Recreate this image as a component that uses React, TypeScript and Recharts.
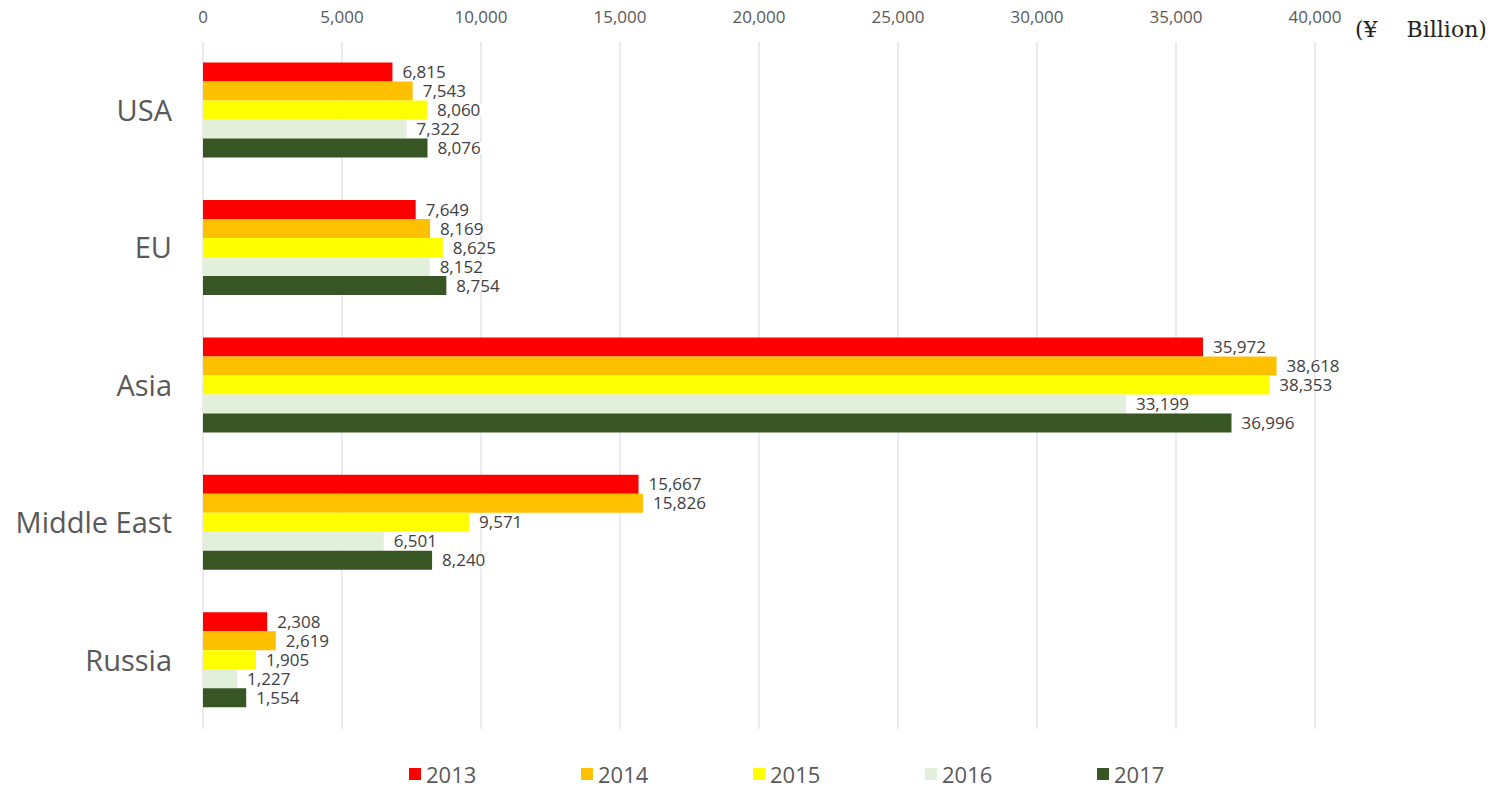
import React from 'react';
import { BarChart, Bar, XAxis, YAxis, CartesianGrid, Legend, LabelList, Label } from 'recharts';

const categories = ['USA', 'EU', 'Asia', 'Middle East', 'Russia'];
const years = ['2013', '2014', '2015', '2016', '2017'];
const v2013 = [6815, 7649, 35972, 15667, 2308];
const v2014 = [7543, 8169, 38618, 15826, 2619];
const v2015 = [8060, 8625, 38353, 9571, 1905];
const v2016 = [7322, 8152, 33199, 6501, 1227];
const v2017 = [8076, 8754, 36996, 8240, 1554];
const seriesValues = [v2013, v2014, v2015, v2016, v2017];
const colors = ['#FF0000', '#FFC000', '#FFFF00', '#E2EFDA', '#375623'];
const xTicks = [0, 5000, 10000, 15000, 20000, 25000, 30000, 35000, 40000];
const unitLabel = '(¥\u3000 Billion)';

const data = categories.map((name, i) => {
  const row: Record<string, string | number> = { name };
  years.forEach((y, j) => {
    row[y] = seriesValues[j][i];
  });
  return row;
});

const fmt = (v: number) => v.toLocaleString('en-US');

const ValueLabel = (props: any) => {
  const { x, y, width, height, value } = props;
  const text = fmt(Number(value));
  const tx = Number(x) + Number(width) + 10;
  const cy = Number(y) + Number(height) / 2;
  const w = text.length * 9.2 + 4;
  return (
    <g>
      <rect x={tx - 3} y={cy - 6} width={w} height={12} fill="#ffffff" />
      <text x={tx} y={cy} dy="0.36em" fontSize={17} fill="#404040" fontFamily="'Open Sans', sans-serif">
        {text}
      </text>
    </g>
  );
};

const LegendContent = () => (
  <div style={{ display: 'flex', paddingLeft: 409, paddingTop: 32, fontFamily: "'Open Sans', sans-serif" }}>
    {years.map((y, i) => (
      <div key={y} style={{ width: 172, display: 'flex', alignItems: 'center' }}>
        <span style={{ display: 'inline-block', width: 12, height: 12, background: colors[i], marginRight: 5 }} />
        <span style={{ fontSize: 22, color: '#595959', lineHeight: '26px' }}>{y}</span>
      </div>
    ))}
  </div>
);

const UnitLabel = (props: any) => {
  const vb = props.viewBox || {};
  return (
    <text
      x={Number(vb.x) + Number(vb.width) + 40}
      y={37}
      fontSize={22}
      fill="#222222"
      fontFamily="'DejaVu Serif', serif"
      style={{ whiteSpace: 'pre' }}
    >
      {unitLabel}
    </text>
  );
};

export default function App() {
  return (
    <div style={{ position: 'absolute', left: 0, top: 0, width: 1499, height: 789, background: '#fff', fontFamily: "'Open Sans', sans-serif" }}>
      <BarChart
        width={1499}
        height={789}
        data={data}
        layout="vertical"
        margin={{ top: 0, right: 184, bottom: 0, left: 0 }}
        barCategoryGap="15%"
        barGap={0}
      >
        <CartesianGrid horizontal={false} stroke="#d9d9d9" />
        <XAxis
          type="number"
          orientation="top"
          domain={[0, 40000]}
          ticks={xTicks}
          tickFormatter={fmt}
          axisLine={false}
          tickLine={false}
          height={42}
          tickMargin={13}
          tick={{ fontSize: 17, fill: '#595959' }}
          interval={0}
        >
          <Label content={<UnitLabel />} />
        </XAxis>
        <YAxis
          type="category"
          dataKey="name"
          width={203}
          axisLine={false}
          tickLine={false}
          tickMargin={25}
          tick={{ fontSize: 29, fill: '#595959' }}
          interval={0}
        />
        <Legend verticalAlign="bottom" height={60} content={<LegendContent />} wrapperStyle={{ left: 0, width: 1499 }} />
        {years.map((y, i) => (
          <Bar key={y} dataKey={y} fill={colors[i]} isAnimationActive={false}>
            <LabelList dataKey={y} content={<ValueLabel />} />
          </Bar>
        ))}
      </BarChart>
    </div>
  );
}
